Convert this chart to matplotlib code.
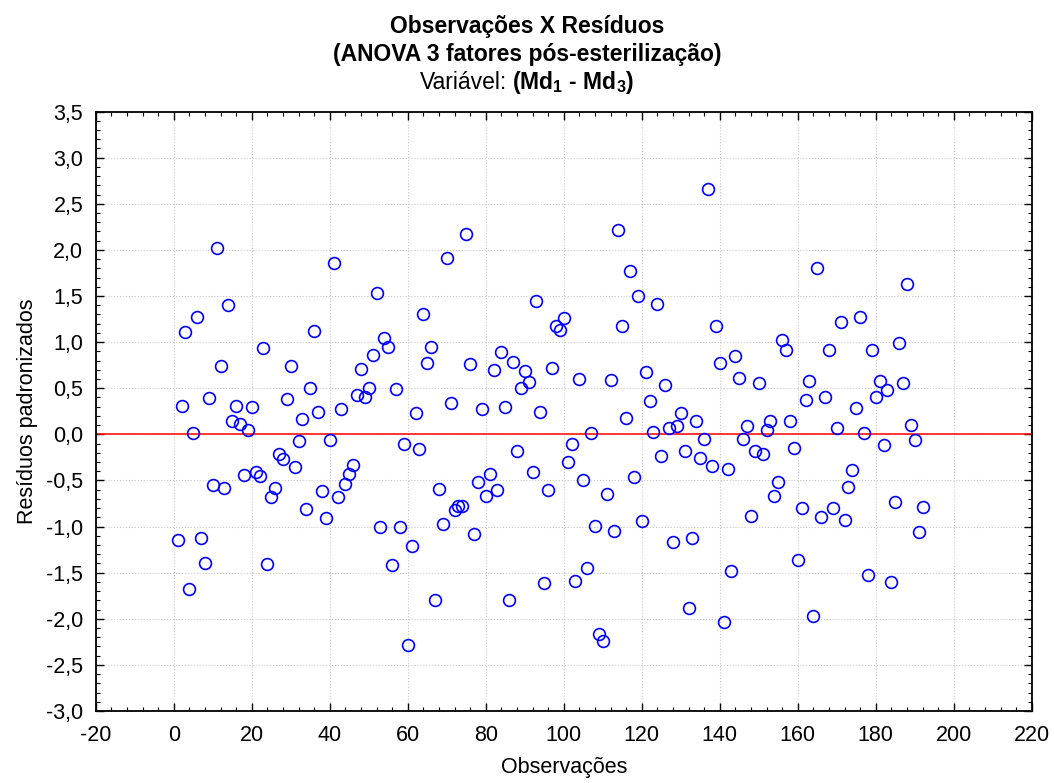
import matplotlib
matplotlib.use("Agg")
import matplotlib.pyplot as plt
from matplotlib.ticker import MultipleLocator, FuncFormatter

plt.rcParams['font.family'] = ['Liberation Sans', 'DejaVu Sans']
plt.rcParams['mathtext.fontset'] = 'custom'
plt.rcParams['mathtext.rm'] = 'Liberation Sans'
plt.rcParams['mathtext.bf'] = 'Liberation Sans:bold'

title_lines = ["Observações X Resíduos", "(ANOVA 3 fatores pós-esterilização)"]
subtitle_plain = "Variável:"
subtitle_bold = r"(Md$_\mathbf{1}$ - Md$_\mathbf{3}$)"
x_label = "Observações"
y_label = "Resíduos padronizados"

residuals = [
    -1.15, 0.31, 1.11, -1.68, 0.02, 1.27, -1.12, -1.39, 0.39, -0.55,
    2.02, 0.74, -0.58, 1.40, 0.14, 0.31, 0.11, -0.44, 0.05, 0.30,
    -0.41, -0.45, 0.94, -1.41, -0.68, -0.58, -0.21, -0.27, 0.38, 0.74,
    -0.35, -0.07, 0.17, -0.81, 0.50, 1.12, 0.24, -0.61, -0.91, -0.06,
    1.86, -0.68, 0.27, -0.54, -0.43, -0.33, 0.43, 0.71, 0.41, 0.50,
    0.86, 1.53, -1.01, 1.04, 0.95, -1.42, 0.49, -1.01, -0.11, -2.28,
    -1.21, 0.23, -0.16, 1.31, 0.77, 0.95, -1.80, -0.59, -0.97, 1.91,
    0.34, -0.82, -0.78, -0.78, 2.17, 0.76, -1.08, -0.52, 0.27, -0.67,
    -0.43, 0.70, -0.60, 0.89, 0.30, -1.80, 0.79, -0.18, 0.50, 0.69,
    0.57, -0.41, 1.45, 0.24, -1.61, -0.60, 0.72, 1.18, 1.13, 1.26,
    -0.30, -0.11, -1.59, 0.60, -0.49, -1.45, 0.01, -0.99, -2.16, -2.24,
    -0.65, 0.59, -1.05, 2.22, 1.18, 0.18, 1.77, -0.46, 1.50, -0.94,
    0.68, 0.36, 0.03, 1.41, -0.23, 0.53, 0.07, -1.17, 0.09, 0.23,
    -0.18, -1.88, -1.12, 0.14, -0.26, -0.05, 2.66, -0.34, 1.18, 0.77,
    -2.04, -0.38, -1.48, 0.85, 0.61, -0.05, 0.09, -0.89, -0.18, 0.56,
    -0.21, 0.05, 0.14, -0.67, -0.52, 1.02, 0.91, 0.15, -0.15, -1.36,
    -0.80, 0.37, 0.58, -1.97, 1.80, -0.90, 0.41, 0.91, -0.80, 0.07,
    1.22, -0.93, -0.57, -0.39, 0.29, 1.27, 0.02, -1.53, 0.91, 0.41,
    0.58, -0.12, 0.48, -1.60, -0.73, 0.99, 0.56, 1.63, 0.10, -0.06,
    -1.06, -0.79,
]
observations = list(range(1, len(residuals) + 1))

W, H = 1054, 783
fig = plt.figure(figsize=(W / 100, H / 100), dpi=100)
left, right, top, bottom = 95.7, 1031.7, 111.6, 711.0
ax = fig.add_axes([left / W, 1 - bottom / H, (right - left) / W, (bottom - top) / H])

ax.axhline(0.0, color='#ff0000', lw=1.1, zorder=2)
ax.plot(observations, residuals, linestyle='none', marker='o', markersize=8.5,
        markerfacecolor='none', markeredgecolor='#0000ff', markeredgewidth=1.2, zorder=3)

ax.set_xlim(-20, 220)
ax.set_ylim(-3.0, 3.5)
ax.xaxis.set_major_locator(MultipleLocator(20))
ax.xaxis.set_minor_locator(MultipleLocator(4))
ax.yaxis.set_major_locator(MultipleLocator(0.5))
ax.yaxis.set_minor_locator(MultipleLocator(0.1))
ax.xaxis.set_major_formatter(FuncFormatter(lambda v, p: f"{v:.0f}"))
ax.yaxis.set_major_formatter(FuncFormatter(lambda v, p: f"{v:.1f}".replace('.', ',')))

ax.tick_params(which='both', direction='in', top=True, right=True, labelsize=15.5, color='black')
ax.tick_params(which='major', length=6, width=1.0)
ax.tick_params(axis='x', which='major', pad=10)
ax.tick_params(axis='y', which='major', pad=9)
ax.tick_params(which='minor', length=3, width=0.8)
for s in ax.spines.values():
    s.set_linewidth(1.3)

ax.grid(True, which='major', color='#c8c8c8', linestyle=':', linewidth=0.8, zorder=0)
ax.set_axisbelow(True)

ax.set_xlabel(x_label, fontsize=15.5, labelpad=8)
ax.set_ylabel(y_label, fontsize=15.5, labelpad=6)

fig.text(0.5, 1 - 33 / H, title_lines[0], ha='center', va='baseline', fontsize=16.5, fontweight='bold')
fig.text(0.5, 1 - 61 / H, title_lines[1], ha='center', va='baseline', fontsize=16.5, fontweight='bold')

r = fig.canvas.get_renderer()
sub_y = 1 - 89 / H
t1 = fig.text(0, sub_y, subtitle_plain, ha='left', va='baseline', fontsize=16.5)
t2 = fig.text(0, sub_y, subtitle_bold, ha='left', va='baseline', fontsize=16.5, fontweight='bold')
w1 = t1.get_window_extent(r).width
w2 = t2.get_window_extent(r).width
gap = 0.2 * 16.5 * 100 / 72
start = (W - (w1 + gap + w2)) / 2
t1.set_x(start / W)
t2.set_x((start + w1 + gap) / W)

fig.savefig("out.png", dpi=100)
